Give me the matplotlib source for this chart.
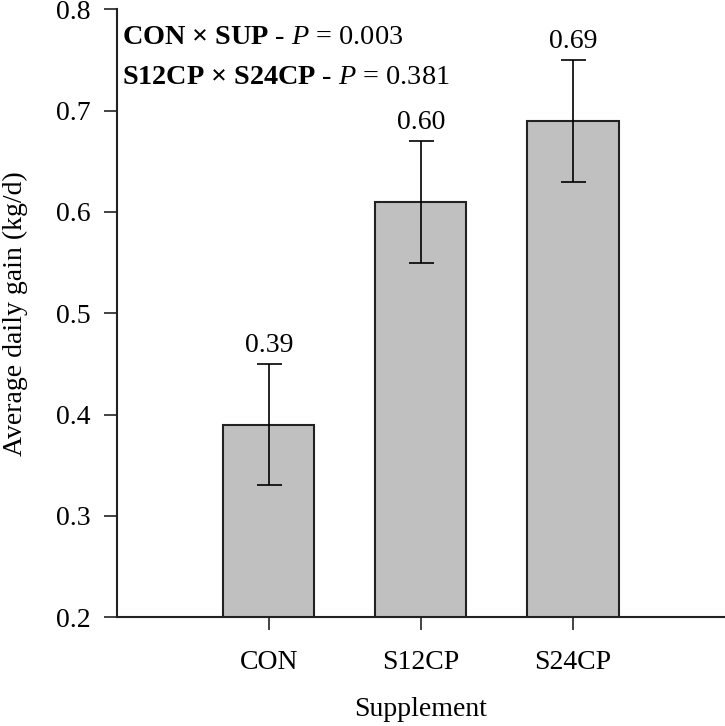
import matplotlib
matplotlib.use('Agg')
import matplotlib.pyplot as plt

plt.rcParams['font.family'] = ['Liberation Serif', 'DejaVu Serif']
plt.rcParams['mathtext.fontset'] = 'custom'
plt.rcParams['mathtext.rm'] = 'Liberation Serif'
plt.rcParams['mathtext.it'] = 'Liberation Serif:italic'
plt.rcParams['mathtext.bf'] = 'Liberation Serif:bold'

supplements = ['CON', 'S12CP', 'S24CP']
adg = [0.39, 0.61, 0.69]
adg_se = [0.06, 0.06, 0.06]
value_labels = ['0.39', '0.60', '0.69']
contrast_lines = [r'$\mathbf{CON\ ×\ SUP}$ - $\mathit{P}$ = 0.003',
                  r'$\mathbf{S12CP\ ×\ S24CP}$ - $\mathit{P}$ = 0.381']

fig = plt.figure(figsize=(7.25, 7.26), dpi=100)
ax = fig.add_axes([0.161, 0.150, 0.839, 0.837])

pos = [1, 2, 3]
ax.bar(pos, adg, width=0.6, bottom=0, color='#c0c0c0', edgecolor='#222222', linewidth=1.5, zorder=2)
ax.errorbar(pos, adg, yerr=adg_se, fmt='none', ecolor='black', elinewidth=1.2, capsize=9, capthick=1.2, zorder=3)

for x, y, e, lab in zip(pos, adg, adg_se, value_labels):
    ax.annotate(lab, (x, y + e), xytext=(0, 4.5), textcoords='offset points',
                ha='center', va='bottom', fontsize=20)

ax.text(0.009, 0.953, contrast_lines[0], transform=ax.transAxes, fontsize=20.3, va='center', ha='left')
ax.text(0.009, 0.888, contrast_lines[1], transform=ax.transAxes, fontsize=20.3, va='center', ha='left')

ax.set_xlim(0, 4)
ax.set_ylim(0.2, 0.8)
ax.set_yticks([0.2, 0.3, 0.4, 0.5, 0.6, 0.7, 0.8])
ax.set_xticks(pos)
ax.set_xticklabels(supplements)
ax.spines['top'].set_visible(False)
ax.spines['right'].set_visible(False)
for s in ['left', 'bottom']:
    ax.spines[s].set_linewidth(1.5)
    ax.spines[s].set_color('#222222')
ax.tick_params(axis='both', direction='out', length=9.5, width=1.2, labelsize=20, color='#222222')
ax.tick_params(axis='y', pad=9.5)
ax.tick_params(axis='x', pad=14)

ax.set_ylabel('Average daily gain (kg/d)', fontsize=20, labelpad=20)
ax.set_xlabel('Supplement', fontsize=20, labelpad=16)

fig.savefig('out.png', dpi=100)
